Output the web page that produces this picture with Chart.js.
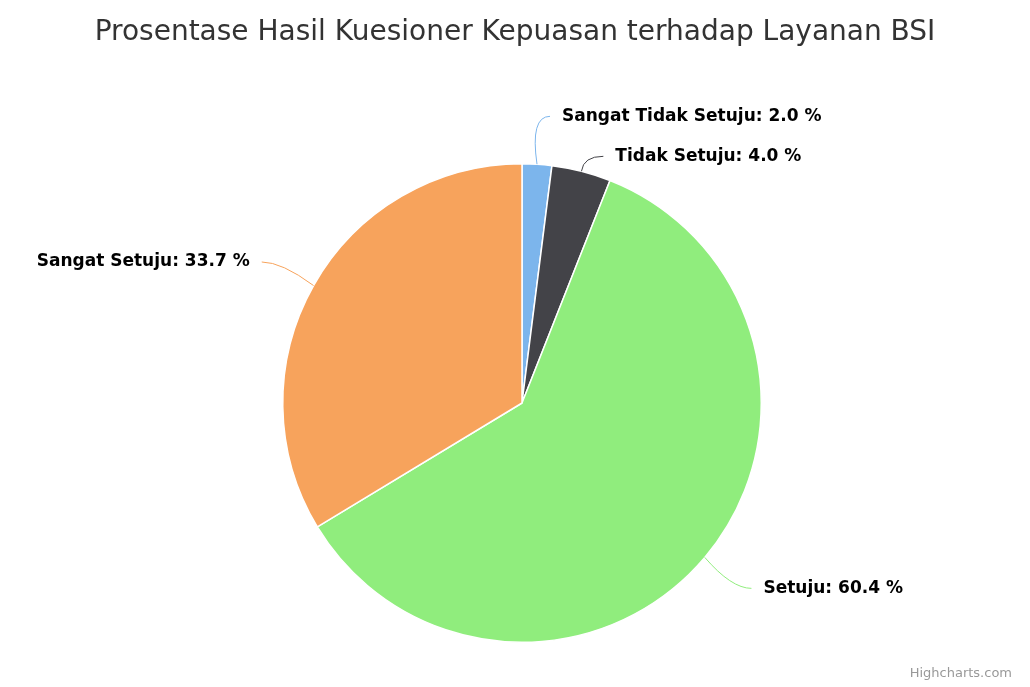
<!DOCTYPE html>
<html><head><meta charset="utf-8">
<script src="https://cdn.jsdelivr.net/npm/chart.js@4"></script>
<style>html,body{margin:0;padding:0;background:#fff}#w{width:1030px;height:687px}</style>
</head><body><div id="w"><canvas id="c"></canvas></div>
<script>
const titleText = "Prosentase Hasil Kuesioner Kepuasan terhadap Layanan BSI";
const categories = ["Sangat Tidak Setuju", "Tidak Setuju", "Setuju", "Sangat Setuju"];
const values = [2.0, 4.0, 60.4, 33.7];
const colors = ["#7cb5ec", "#434348", "#90ed7d", "#f7a35c"];

const labelPlugin = {
  id: 'labels',
  afterDraw(chart) {
    const ctx = chart.ctx;
    ctx.save();
    ctx.fillStyle = '#333';
    ctx.font = '28px "DejaVu Sans"';
    ctx.textAlign = 'center'; ctx.textBaseline = 'middle';
    ctx.fillText(titleText, 515, 33);
    ctx.fillStyle = '#999';
    ctx.font = '13px "DejaVu Sans"';
    ctx.textAlign = 'right';
    ctx.fillText('Highcharts.com', 1012, 674);

    const meta = chart.getDatasetMeta(0);
    const items = [];
    meta.data.forEach((arc, i) => {
      const p = arc.getProps(['x','y','startAngle','endAngle','outerRadius'], true);
      const a = (p.startAngle + p.endAngle) / 2;
      const px = p.x + Math.cos(a) * p.outerRadius, py = p.y + Math.sin(a) * p.outerRadius;
      const d = p.outerRadius + 48;
      const ex = p.x + Math.cos(a) * d, ey = p.y + Math.sin(a) * d;
      items.push({i, px, py, ex, ey, right: Math.cos(a) >= 0});
    });
    [true, false].forEach(side => {
      const s = items.filter(o => o.right === side).sort((a,b) => a.ey - b.ey);
      for (let k = 1; k < s.length; k++) if (s[k].ey - s[k-1].ey < 40) s[k].ey = s[k-1].ey + 40;
    });
    ctx.font = 'bold 17px "DejaVu Sans"';
    ctx.textBaseline = 'middle';
    items.forEach(o => {
      const dir = o.right ? 1 : -1;
      const hx = o.ex + dir * 10;
      ctx.strokeStyle = colors[o.i]; ctx.lineWidth = 1;
      ctx.beginPath();
      ctx.moveTo(o.px, o.py);
      ctx.quadraticCurveTo(o.ex - dir*10, o.ey, hx, o.ey);
      ctx.stroke();
      ctx.fillStyle = '#000';
      ctx.textAlign = o.right ? 'left' : 'right';
      ctx.fillText(categories[o.i] + ': ' + values[o.i].toFixed(1) + ' %', hx + dir * 12, o.ey);
    });
    ctx.restore();
  }
};

new Chart(document.getElementById('c'), {
  type: 'pie',
  data: { labels: categories, datasets: [{ data: values, backgroundColor: colors, borderColor: '#fff', borderWidth: 1.5 }] },
  options: {
    responsive: true, maintainAspectRatio: false, animation: false,
    layout: { padding: { top: 163, bottom: 44, left: 282, right: 268 } },
    plugins: { legend: { display: false }, tooltip: { enabled: false }, title: { display: false } }
  },
  plugins: [labelPlugin]
});
</script></body></html>
